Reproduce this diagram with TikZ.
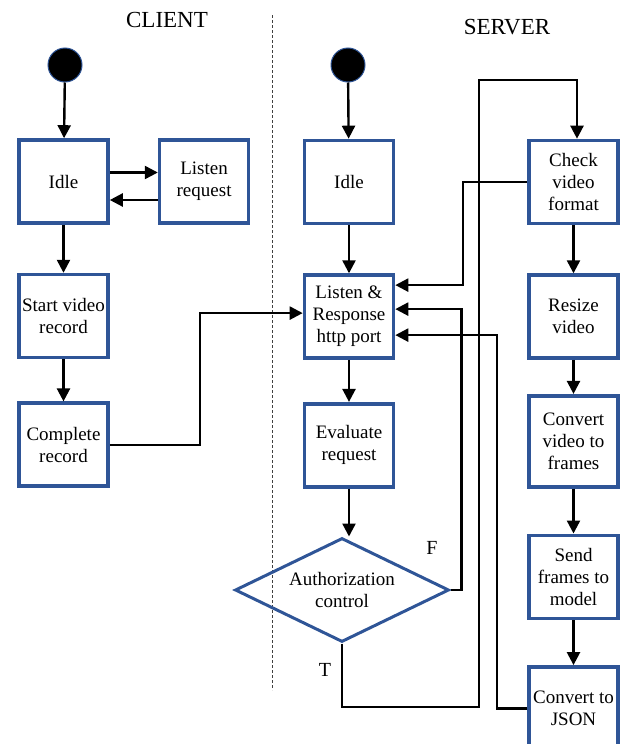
\documentclass[tikz,border=0pt]{standalone}
\usepackage{fontspec}
\setmainfont{Liberation Serif}
\usetikzlibrary{arrows.meta,positioning,shapes.geometric}
\definecolor{boxblue}{RGB}{47,85,151}
\tikzset{
  act/.style={draw=boxblue, line width=3.6pt, rectangle, align=center, font=\fontsize{19}{22}\selectfont, minimum width=89pt, minimum height=83pt, inner sep=1pt, fill=white},
  cond/.style={draw=boxblue, line width=3pt, diamond, aspect=2, align=center, font=\fontsize{19}{22}\selectfont, minimum width=214pt, minimum height=104pt, inner sep=0pt},
  init/.style={circle, fill=black, draw=boxblue, line width=1pt, minimum size=34pt, inner sep=0pt},
  arr/.style={-{Triangle[length=13pt,width=13pt]}, line width=2.4pt},
  lane/.style={font=\fontsize{23}{26}\selectfont},
  lbl/.style={font=\fontsize{20}{22}\selectfont},
  divider/.style={line width=0.9pt, black!75, dash pattern=on 3pt off 2pt},
}

\begin{document}
\begin{tikzpicture}[x=1pt, y=-1pt]
\useasboundingbox (0,0) rectangle (620,744);

% lanes
\node[lane] (client) at (167,20) {CLIENT};
\node[lane] (server) at (507,27) {SERVER};
\draw[divider] (272,15) -- (272,690);

% client side
\node[init] (cinit) at (65,65) {};
\node[act] (cidle) at (63.5,181.5) {Idle};
\node[act, right=48pt of cidle] (clisten) {Listen\\request};
\node[act, below=48pt of cidle] (cstart) {Start video\\record};
\node[act, below=42pt of cstart] (cdone) {Complete\\record};

% server side
\node[init] (sinit) at (348,65) {};
\node[act] (sidle) at (349,182) {Idle};
\node[act, below=48pt of sidle] (slisten) {Listen \&\\Response\\http port};
\node[act, below=42pt of slisten] (seval) {Evaluate\\request};
\node[cond, below=48pt of seval, xshift=-7pt] (auth) {Authorization\\control};

% processing chain
\node[act] (check) at (573.5,182) {Check\\video\\format};
\node[act, below=48pt of check] (resize) {Resize\\video};
\node[act, below=34pt of resize, minimum height=91pt] (frames) {Convert\\video to\\frames};
\node[act, below=45pt of frames] (send) {Send\\frames to\\model};
\node[act, below=45pt of send] (json) {Convert to\\JSON};

% client flow
\draw[arr] (cinit) -- (cidle);
\draw[arr] ([yshift=9pt]cidle.east) -- ([yshift=9pt]clisten.west);
\draw[arr] ([yshift=-18.5pt]clisten.west) -- ([yshift=-18.5pt]cidle.east);
\draw[arr] (cidle) -- (cstart);
\draw[arr] (cstart) -- (cdone);
\draw[arr] (cdone.east) -- ++(90,0) |- ([yshift=3.5pt]slisten.west);

% server flow
\draw[arr] (sinit) -- (sidle);
\draw[arr] (sidle) -- (slisten);
\draw[arr] (slisten) -- (seval);
\draw[arr] (seval.south) -- (seval.south |- auth.north);
\draw[arr] (auth.east) -- ++(11,0) |- ([yshift=7.5pt]slisten.east);
\node[lbl] (lblf) at (432,548) {F};
\draw[arr] (auth.south) |- (479,707) -- (479,80) -| ([xshift=3.5pt]check.north);
\node[lbl] (lblt) at (325,670) {T};

\draw[arr] (check.west) -- ++(-64,0) |- ([yshift=31.5pt]slisten.east);
\draw[arr] (check) -- (resize);
\draw[arr] (resize) -- (frames);
\draw[arr] (frames) -- (send);
\draw[arr] (send) -- (json);
\draw[arr] (json.west) -- ++(-30,0) |- ([yshift=-18.5pt]slisten.east);
\end{tikzpicture}
\end{document}
